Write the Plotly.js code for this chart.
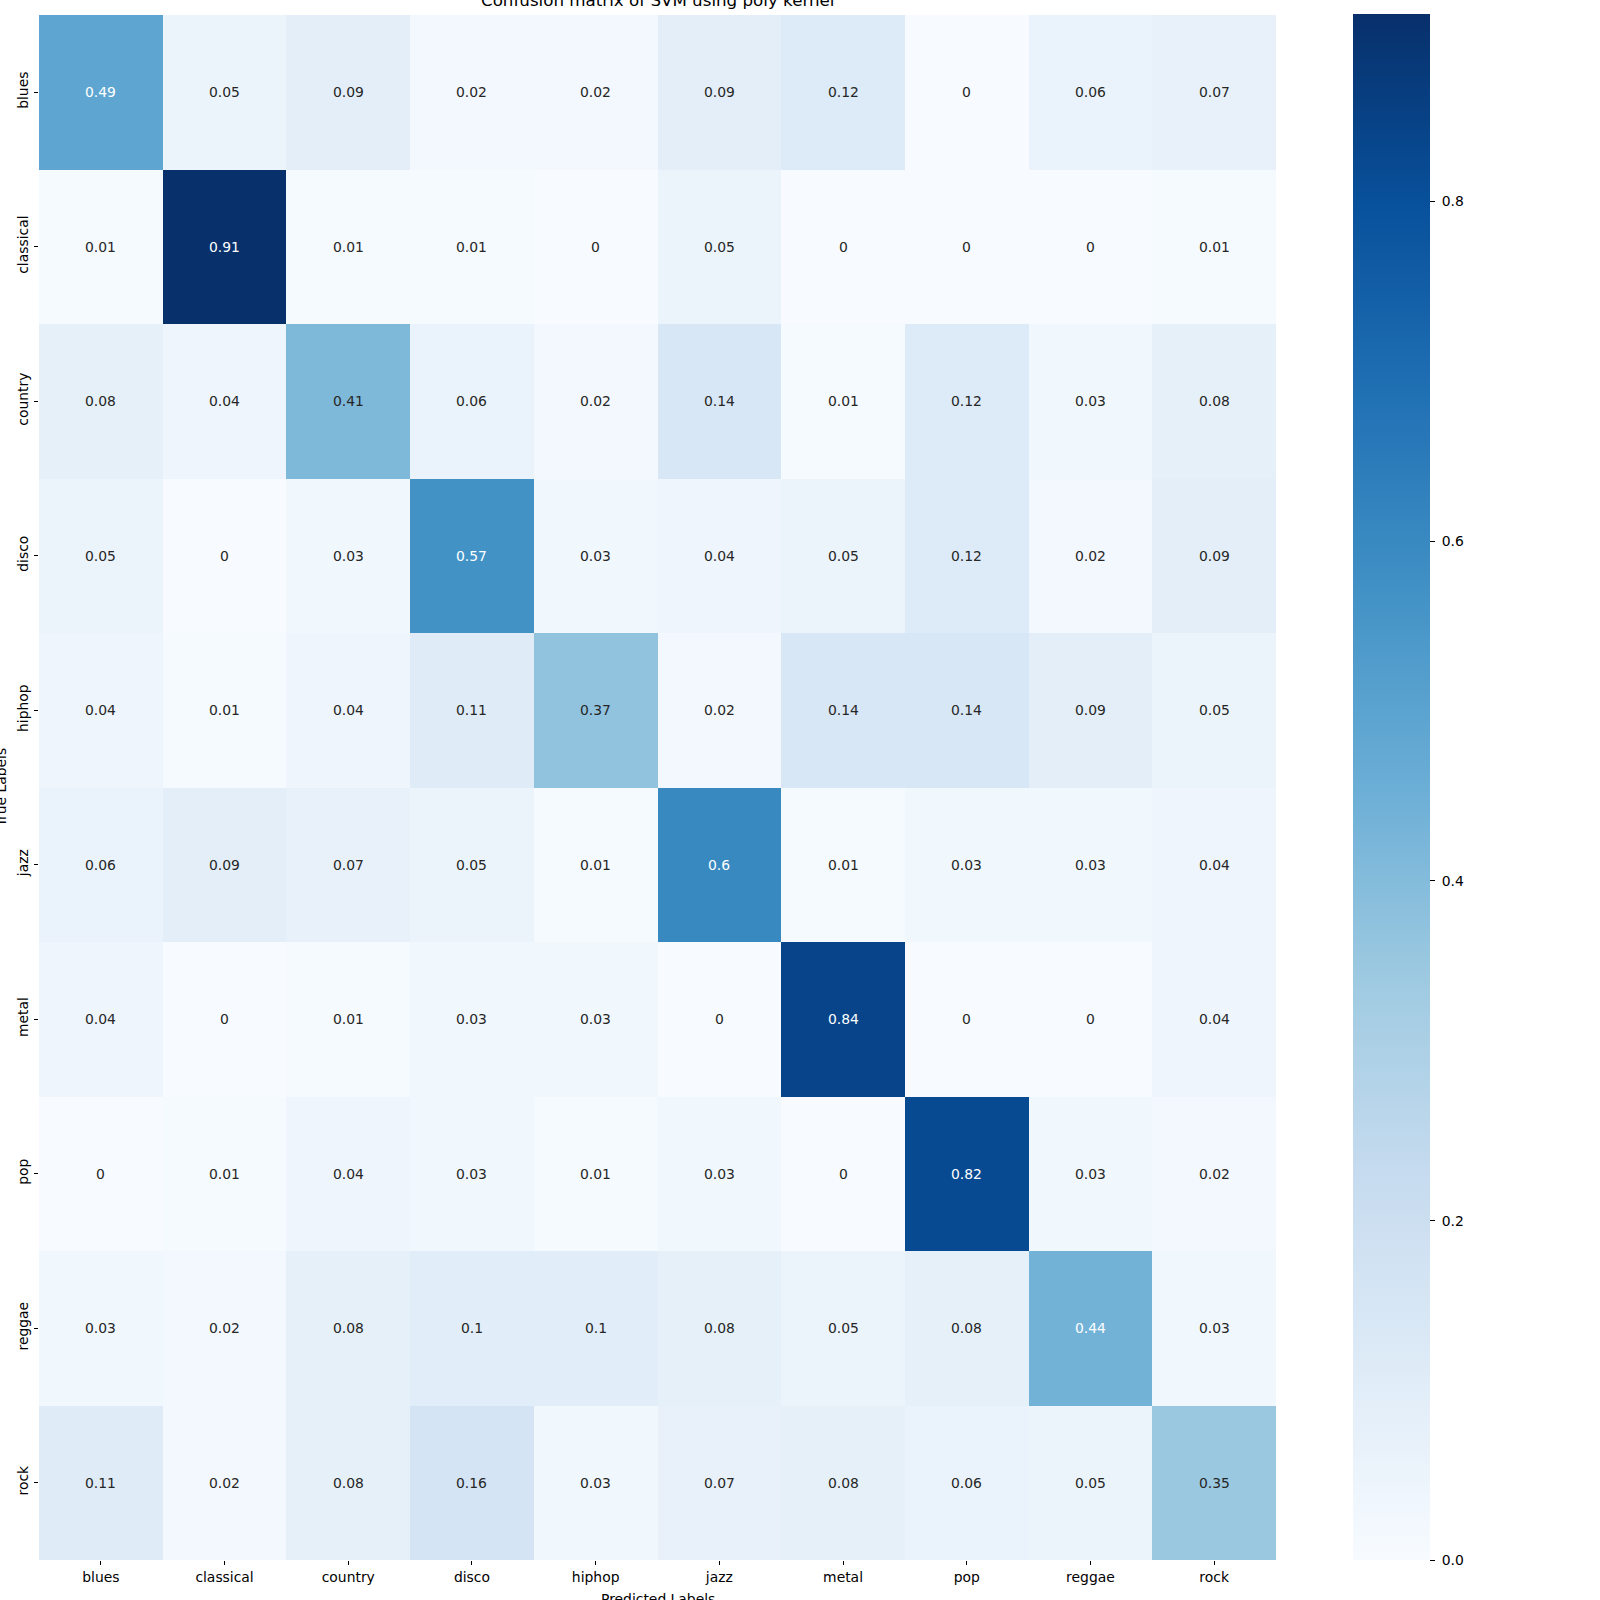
<!DOCTYPE html>
<html>
<head>
<meta charset="utf-8">
<script src="https://cdn.plot.ly/plotly-3.0.1.min.js"></script>
<style>html,body{margin:0;padding:0;background:#fff;}#chart{width:1600px;height:1600px;}</style>
</head>
<body>
<div id="chart"></div>
<script>
const labels = ["blues","classical","country","disco","hiphop","jazz","metal","pop","reggae","rock"];
const rowBlues     = [0.49,0.05,0.09,0.02,0.02,0.09,0.12,0,0.06,0.07];
const rowClassical = [0.01,0.91,0.01,0.01,0,0.05,0,0,0,0.01];
const rowCountry   = [0.08,0.04,0.41,0.06,0.02,0.14,0.01,0.12,0.03,0.08];
const rowDisco     = [0.05,0,0.03,0.57,0.03,0.04,0.05,0.12,0.02,0.09];
const rowHiphop    = [0.04,0.01,0.04,0.11,0.37,0.02,0.14,0.14,0.09,0.05];
const rowJazz      = [0.06,0.09,0.07,0.05,0.01,0.6,0.01,0.03,0.03,0.04];
const rowMetal     = [0.04,0,0.01,0.03,0.03,0,0.84,0,0,0.04];
const rowPop       = [0,0.01,0.04,0.03,0.01,0.03,0,0.82,0.03,0.02];
const rowReggae    = [0.03,0.02,0.08,0.1,0.1,0.08,0.05,0.08,0.44,0.03];
const rowRock      = [0.11,0.02,0.08,0.16,0.03,0.07,0.08,0.06,0.05,0.35];
const colorbarTicks = [0,0.2,0.4,0.6,0.8];

const z = [rowBlues,rowClassical,rowCountry,rowDisco,rowHiphop,rowJazz,rowMetal,rowPop,rowReggae,rowRock];
const zmin = 0, zmax = 0.91;
const blues = ["#f7fbff","#deebf7","#c6dbef","#9ecae1","#6baed6","#4292c6","#2171b5","#08519c","#08306b"];
const colorscale = blues.map((c,i)=>[i/(blues.length-1), c]);

function hexToRgb(h){return [parseInt(h.slice(1,3),16),parseInt(h.slice(3,5),16),parseInt(h.slice(5,7),16)];}
function colorAt(v){
  let t = (v - zmin)/(zmax - zmin); t = Math.max(0, Math.min(1, t));
  const n = blues.length-1; const p = t*n; const i = Math.min(Math.floor(p), n-1); const f = p - i;
  const a = hexToRgb(blues[i]), b = hexToRgb(blues[i+1]);
  return a.map((x,k)=> (x + (b[k]-x)*f)/255);
}
function lum(rgb){
  const c = rgb.map(x => x <= 0.03928 ? x/12.92 : Math.pow((x+0.055)/1.055, 2.4));
  return 0.2126*c[0] + 0.7152*c[1] + 0.0722*c[2];
}

const font = "DejaVu Sans, sans-serif";
const annotations = [];
z.forEach((row, r) => row.forEach((v, c) => {
  annotations.push({
    x: labels[c], y: labels[r], xref: 'x', yref: 'y', text: String(v), showarrow: false,
    font: {family: font, size: 13.9, color: lum(colorAt(v)) < 0.408 ? '#ffffff' : '#262626'}
  });
}));
annotations.push({text: "Confusion matrix of SVM using poly kernel", xref: 'paper', yref: 'paper', x: 0.5, y: 1,
  xanchor: 'center', yanchor: 'bottom', yshift: 3, showarrow: false, font: {family: font, size: 16.7, color: '#000'}});
annotations.push({text: "Predicted Labels", xref: 'paper', yref: 'paper', x: 0.5, y: 0,
  xanchor: 'center', yanchor: 'top', yshift: -29, showarrow: false, font: {family: font, size: 13.9, color: '#000'}});
annotations.push({text: "True Labels", xref: 'paper', yref: 'paper', x: 0, y: 0.5, textangle: -90,
  xanchor: 'center', yanchor: 'middle', xshift: -39, showarrow: false, font: {family: font, size: 13.9, color: '#000'}});

const trace = {
  type: 'heatmap', z: z, x: labels, y: labels, zmin: zmin, zmax: zmax, colorscale: colorscale,
  xgap: 0, ygap: 0, hoverinfo: 'skip',
  colorbar: {
    x: 1.0623, xanchor: 'left', xref: 'paper', thickness: 77, thicknessmode: 'pixels',
    len: 1546, lenmode: 'pixels', y: 0.5, yanchor: 'middle', outlinewidth: 0,
    tickvals: colorbarTicks, ticktext: colorbarTicks.map(v => '\u00a0' + v.toFixed(1)),
    ticks: 'outside', ticklen: 5, tickwidth: 1, tickcolor: '#000',
    tickfont: {family: font, size: 13.9, color: '#000'}, xpad: 0, ypad: 0
  }
};

const layout = {
  width: 1600, height: 1600,
  margin: {l: 39, r: 324, t: 15, b: 40, pad: 0},
  paper_bgcolor: '#fff', plot_bgcolor: '#fff',
  xaxis: {type: 'category', showgrid: false, zeroline: false, showline: false, ticks: 'outside', ticklen: 4,
    tickwidth: 1, tickcolor: '#000', tickfont: {family: font, size: 13.9, color: '#000'}, tickangle: 0},
  yaxis: {type: 'category', autorange: 'reversed', showgrid: false, zeroline: false, showline: false,
    ticks: 'outside', ticklen: 4, tickwidth: 1, tickcolor: '#000', tickangle: -90,
    tickfont: {family: font, size: 13.9, color: '#000'}},
  annotations: annotations,
  showlegend: false
};

Plotly.newPlot('chart', [trace], layout, {staticPlot: true, displayModeBar: false});
</script>
</body>
</html>
